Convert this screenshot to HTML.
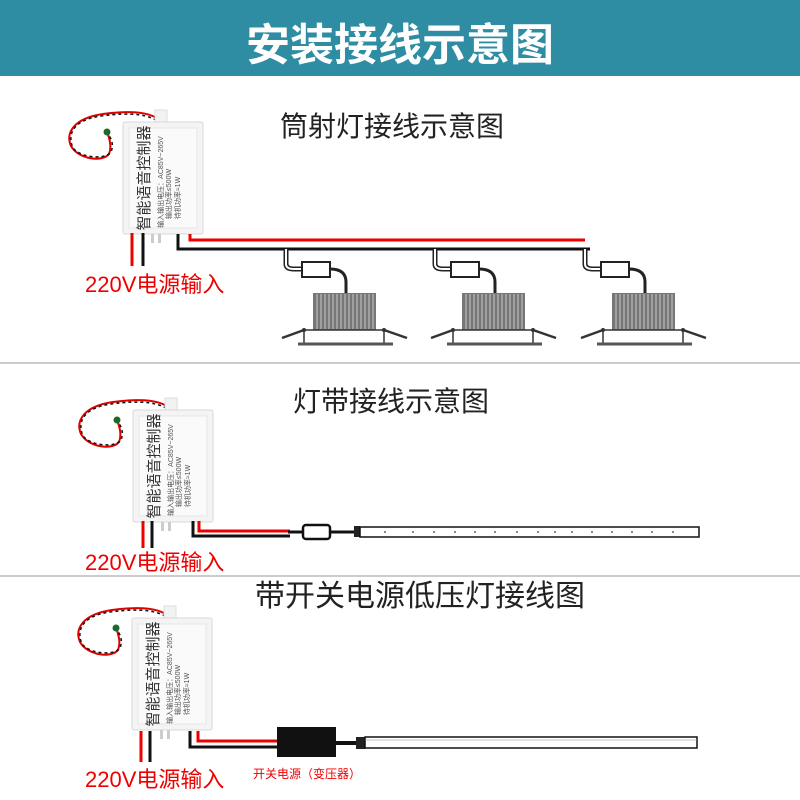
<!DOCTYPE html>
<html><head><meta charset="utf-8"><style>
html,body{margin:0;padding:0;background:#fff}
svg{display:block}
text{font-family:"Liberation Sans","Noto Sans CJK SC",sans-serif}
</style></head><body>
<svg width="800" height="800" viewBox="0 0 800 800" xmlns="http://www.w3.org/2000/svg">
<defs>
<g id="ctrl">
  <path d="M38,-10 C30,-20 10,-22 -20,-18 C-48,-14 -58,0 -52,14 C-44,28 -20,30 -14,22 C-10,12 -16,2 -16,-2" fill="none" stroke="#d00" stroke-width="2"/>
  <path d="M38,-8 C28,-18 8,-20 -22,-16 C-50,-12 -56,2 -50,16 C-42,26 -18,28 -12,20 C-8,10 -14,4 -16,0" fill="none" stroke="#111" stroke-width="1.5" stroke-dasharray="3 3"/>
  <circle cx="-16" cy="0" r="3.5" fill="#1a6a2a"/>
  <rect x="32" y="-22" width="12" height="14" fill="#f2f2f2" stroke="#ddd"/>
  <rect x="0" y="-10" width="80" height="112" fill="#f4f4f4" stroke="#d8d8d8" rx="2"/>
  <rect x="6" y="-4" width="68" height="100" fill="#fafafa" stroke="#e6e6e6"/>
  <g transform="translate(40,46) rotate(-90)">
    <text x="0" y="-14" font-size="15" text-anchor="middle" fill="#333">智能语音控制器</text>
    <text x="-4" y="0" font-size="7" text-anchor="middle" fill="#555">输入输出电压：AC85V~265V</text>
    <text x="-16" y="8" font-size="7" text-anchor="middle" fill="#555">输出功率≤500W</text>
    <text x="-20" y="17" font-size="7" text-anchor="middle" fill="#555">待机功率≈1W</text>
  </g>
  <rect x="28" y="102" width="3" height="9" fill="#ccc"/><rect x="35" y="102" width="3" height="9" fill="#ccc"/>
</g>
</defs>

<rect x="0" y="0" width="800" height="76" fill="#2e8ca3"/>
<text x="400" y="60" font-size="44" font-weight="bold" text-anchor="middle" fill="#fff">安装接线示意图</text>

<line x1="0" y1="363" x2="800" y2="363" stroke="#bbb" stroke-width="1.5"/>
<line x1="0" y1="576" x2="800" y2="576" stroke="#bbb" stroke-width="1.5"/>

<!-- Section 1 -->
<text x="280" y="136" font-size="28" fill="#222">筒射灯接线示意图</text>
<use href="#ctrl" transform="translate(123,132)"/>
<path d="M132,233 V266" stroke="#e00" stroke-width="3"/>
<path d="M143,233 V266" stroke="#111" stroke-width="3"/>
<path d="M190,234 V240 H585" fill="none" stroke="#e00" stroke-width="3"/>
<path d="M178,234 V249 H590" fill="none" stroke="#111" stroke-width="3"/>
<text x="85" y="292" font-size="22" fill="#e00">220V电源输入</text>
<g id="lamp">
  <path d="M286,249 V264 Q286,269 294,269 H303" fill="none" stroke="#222" stroke-width="5"/>
  <path d="M286,249 V264 Q286,269 294,269 H303" fill="none" stroke="#fff" stroke-width="2"/>
  <rect x="302" y="262" width="28" height="15" fill="#fff" stroke="#222" stroke-width="2"/>
  <path d="M330,269 Q346,269 346,282 V294" fill="none" stroke="#222" stroke-width="3"/>
  <rect x="313" y="293" width="63" height="37" fill="#777"/>
  <g stroke="#ddd" stroke-width="0.8">
    <line x1="317" y1="294" x2="317" y2="329"/><line x1="321" y1="294" x2="321" y2="329"/><line x1="325" y1="294" x2="325" y2="329"/><line x1="329" y1="294" x2="329" y2="329"/><line x1="333" y1="294" x2="333" y2="329"/><line x1="337" y1="294" x2="337" y2="329"/><line x1="341" y1="294" x2="341" y2="329"/><line x1="345" y1="294" x2="345" y2="329"/><line x1="349" y1="294" x2="349" y2="329"/><line x1="353" y1="294" x2="353" y2="329"/><line x1="357" y1="294" x2="357" y2="329"/><line x1="361" y1="294" x2="361" y2="329"/><line x1="365" y1="294" x2="365" y2="329"/><line x1="369" y1="294" x2="369" y2="329"/><line x1="373" y1="294" x2="373" y2="329"/>
  </g>
  <line x1="282" y1="338" x2="304" y2="330" stroke="#333" stroke-width="2.5"/>
  <line x1="407" y1="338" x2="384" y2="330" stroke="#333" stroke-width="2.5"/>
  <line x1="304" y1="330" x2="384" y2="330" stroke="#333" stroke-width="1.5"/>
  <line x1="304" y1="330" x2="304" y2="344" stroke="#333" stroke-width="1.5"/>
  <line x1="384" y1="330" x2="384" y2="344" stroke="#333" stroke-width="1.5"/>
  <circle cx="304" cy="330" r="2" fill="#333"/><circle cx="384" cy="330" r="2" fill="#333"/>
  <line x1="298" y1="344" x2="393" y2="344" stroke="#555" stroke-width="3"/>
</g>
<use href="#lamp" transform="translate(149,0)"/>
<use href="#lamp" transform="translate(299,0)"/>

<!-- Section 2 -->
<text x="293" y="411" font-size="28" fill="#222">灯带接线示意图</text>
<use href="#ctrl" transform="translate(133,420)"/>
<path d="M143,521 V548" stroke="#e00" stroke-width="3"/>
<path d="M152,521 V548" stroke="#111" stroke-width="3"/>
<path d="M199,521 V531 H290" fill="none" stroke="#e00" stroke-width="3"/>
<path d="M193,521 V536 H290" fill="none" stroke="#111" stroke-width="3"/>
<text x="85" y="570" font-size="22" fill="#e00">220V电源输入</text>
<line x1="288" y1="532" x2="304" y2="532" stroke="#111" stroke-width="3"/>
<rect x="303" y="525" width="27" height="14" rx="3" fill="#fff" stroke="#111" stroke-width="2.5"/>
<line x1="330" y1="532" x2="355" y2="532" stroke="#111" stroke-width="3"/>
<rect x="354" y="526" width="6" height="11" fill="#222"/>
<rect x="360" y="527" width="339" height="10" fill="#fff" stroke="#111" stroke-width="1.5"/>
<g fill="#666">
<circle cx="385" cy="532" r="1"/><circle cx="413" cy="532" r="1"/><circle cx="434" cy="532" r="1"/><circle cx="455" cy="532" r="1"/><circle cx="475" cy="532" r="1"/><circle cx="495" cy="532" r="1"/><circle cx="517" cy="532" r="1"/><circle cx="538" cy="532" r="1"/><circle cx="555" cy="532" r="1"/><circle cx="572" cy="532" r="1"/><circle cx="592" cy="532" r="1"/><circle cx="612" cy="532" r="1"/><circle cx="632" cy="532" r="1"/><circle cx="652" cy="532" r="1"/><circle cx="673" cy="532" r="1"/>
</g>

<!-- Section 3 -->
<text x="255" y="606" font-size="30" fill="#222">带开关电源低压灯接线图</text>
<use href="#ctrl" transform="translate(132,628)"/>
<path d="M141,731 V762" stroke="#e00" stroke-width="3"/>
<path d="M150,731 V762" stroke="#111" stroke-width="3"/>
<path d="M198,731 V741 H280" fill="none" stroke="#e00" stroke-width="3"/>
<path d="M190,731 V747 H280" fill="none" stroke="#111" stroke-width="3"/>
<text x="85" y="787" font-size="22" fill="#e00">220V电源输入</text>
<rect x="277" y="727" width="59" height="30" fill="#111"/>
<line x1="336" y1="743" x2="358" y2="743" stroke="#111" stroke-width="4"/>
<rect x="356" y="737" width="9" height="12" fill="#222"/>
<rect x="365" y="737" width="332" height="11" fill="#fff" stroke="#111" stroke-width="1.5"/>
<line x1="365" y1="740" x2="697" y2="740" stroke="#888" stroke-width="0.6"/>
<text x="253" y="778" font-size="12" fill="#e00">开关电源（变压器）</text>
</svg>
</body></html>
